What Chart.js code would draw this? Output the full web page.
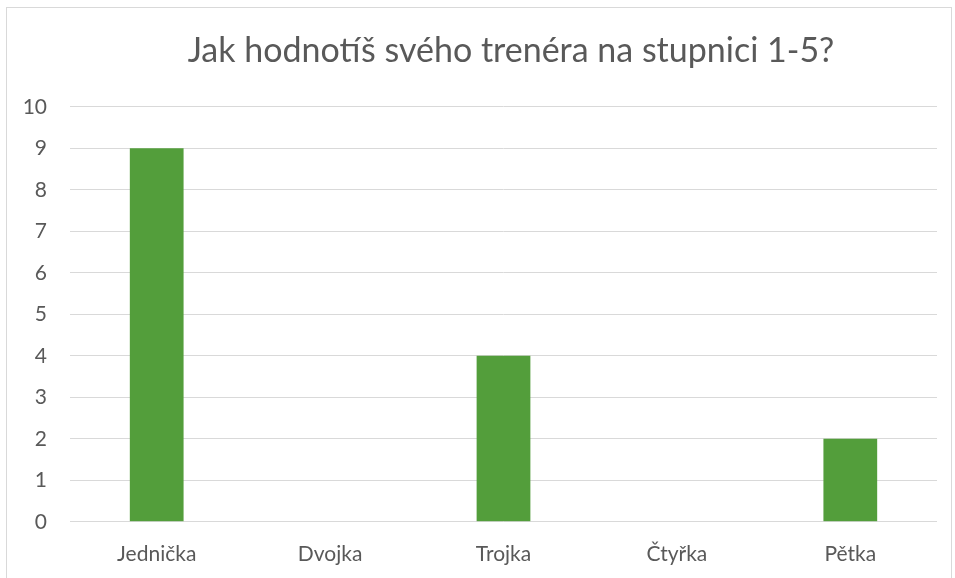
<!DOCTYPE html>
<html>
<head>
<meta charset="utf-8">
<script src="https://cdn.jsdelivr.net/npm/chart.js@4"></script>
<style>
  body { margin: 0; background: #fff; }
  #box { position: absolute; left: 6px; top: 7px; width: 944px; height: 580px; border: 1px solid #d9d9d9; }
  canvas { display: block; }
</style>
</head>
<body>
<div id="box"><canvas id="graf" width="944" height="572"></canvas></div>
<script>
const kategorie = ['Jednička', 'Dvojka', 'Trojka', 'Čtyřka', 'Pětka'];
const hodnoty = [9, 0, 4, 0, 2];
const titulek = 'Jak hodnotíš svého trenéra na stupnici 1-5?';

// posune titulek trochu doprava, jako v Excelu
const posunTitulku = {
  id: 'posunTitulku',
  afterLayout(chart) {
    if (chart.titleBlock) {
      chart.titleBlock.left += 78;
    }
  }
};

const ctx = document.getElementById('graf').getContext('2d');
const graf = new Chart(ctx, {
  type: 'bar',
  data: {
    labels: kategorie,
    datasets: [{
      label: 'Počet',
      data: hodnoty,
      backgroundColor: '#539e3b',
      borderWidth: 0,
      categoryPercentage: 1,
      barPercentage: 0.31
    }]
  },
  options: {
    responsive: false,
    animation: false,
    layout: { padding: { left: 0, right: 14, top: 23, bottom: 1 } },
    plugins: {
      legend: { display: false },
      tooltip: { enabled: false },
      title: {
        display: true,
        text: titulek,
        color: '#595959',
        font: { family: 'Lato', size: 34, weight: 'normal' },
        padding: { top: 0, bottom: 35 }
      }
    },
    scales: {
      x: {
        grid: { display: false },
        border: { display: false },
        ticks: { color: '#595959', font: { family: 'Lato', size: 21 }, padding: 12 },
        afterFit(scale) {
          scale.paddingLeft = 0;
          scale.paddingRight = 0;
        }
      },
      y: {
        min: 0,
        max: 10,
        ticks: { stepSize: 1, color: '#595959', font: { family: 'Lato', size: 21 }, padding: 23 },
        grid: { color: '#d9d9d9', lineWidth: 1, drawTicks: false },
        border: { display: false },
        afterFit(scale) {
          scale.width = 63;
        }
      }
    }
  },
  plugins: [posunTitulku]
});
</script>
</body>
</html>
